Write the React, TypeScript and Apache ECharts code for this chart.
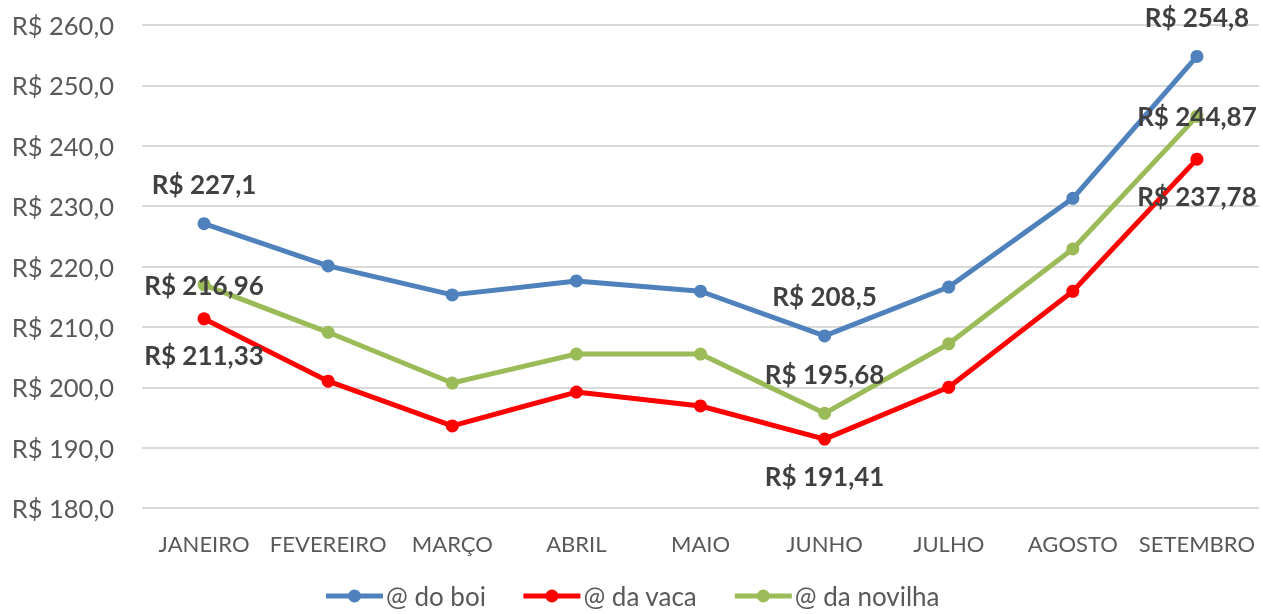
import React, { useEffect, useRef } from "react";
import * as echarts from "echarts";

const categories = ["JANEIRO", "FEVEREIRO", "MARÇO", "ABRIL", "MAIO", "JUNHO", "JULHO", "AGOSTO", "SETEMBRO"];
const boi = [227.1, 220.1, 215.3, 217.6, 215.9, 208.5, 216.6, 231.3, 254.8];
const vaca = [211.33, 201.0, 193.6, 199.2, 196.9, 191.41, 200.0, 215.9, 237.78];
const novilha = [216.96, 209.1, 200.7, 205.5, 205.5, 195.68, 207.2, 222.9, 244.87];
const yTicks = { min: 180, max: 260, interval: 10 };
// indices that carry data labels, with their placement
const boiLabels: Record<number, string> = { 0: "top", 5: "top", 8: "top" };
const vacaLabels: Record<number, string> = { 0: "bottom", 5: "bottom", 8: "bottom" };
const novilhaLabels: Record<number, string> = { 0: "inside", 5: "top", 8: "inside" };

const FONT = "Lato, 'Open Sans', sans-serif";

function fmt(v: number) {
  return "R$ " + String(v).replace(".", ",");
}

function buildData(values: number[], labels: Record<number, string>) {
  return values.map((v, i) => {
    const pos = labels[i];
    if (!pos) return { value: v, label: { show: false } };
    return {
      value: v,
      label: {
        show: true,
        position: pos,
        distance: pos === "bottom" ? 17 : 20,
        formatter: fmt(v),
        fontFamily: FONT,
        fontWeight: "bold",
        fontSize: 26,
        color: "#404040",
      },
    };
  });
}

export default function App() {
  const ref = useRef<HTMLDivElement>(null);
  useEffect(() => {
    if (!ref.current) return;
    const chart = echarts.init(ref.current, undefined, { renderer: "svg" });
    const mk = (name: string, color: string, values: number[], labels: Record<number, string>) => ({
      name,
      type: "line",
      data: buildData(values, labels),
      symbol: "circle",
      symbolSize: 13,
      lineStyle: { color, width: 5 },
      itemStyle: { color },
      z: 2,
    });
    chart.setOption({
      animation: false,
      grid: { left: 142, right: 4, top: 25, bottom: 106, containLabel: false },
      xAxis: {
        type: "category",
        data: categories,
        boundaryGap: true,
        axisLine: { show: false },
        axisTick: { show: false },
        axisLabel: { color: "#595959", fontSize: 22, fontFamily: FONT, margin: 24, interval: 0 },
      },
      yAxis: {
        type: "value",
        min: yTicks.min,
        max: yTicks.max,
        interval: yTicks.interval,
        axisLine: { show: false },
        axisTick: { show: false },
        splitLine: { lineStyle: { color: "#d9d9d9", width: 2 } },
        axisLabel: {
          color: "#595959",
          fontSize: 25.5,
          fontFamily: FONT,
          margin: 28,
          formatter: (v: number) => "R$ " + v.toFixed(1).replace(".", ","),
        },
      },
      legend: {
        top: 578,
        left: "center",
        itemWidth: 57,
        itemHeight: 16,
        itemGap: 35,
        lineStyle: { width: 5 },
        textStyle: { color: "#595959", fontSize: 26, fontFamily: FONT, padding: [0, 0, 0, -2] },
        data: ["@ do boi", "@ da vaca", "@ da novilha"],
      },
      series: [
        mk("@ do boi", "#4F81BD", boi, boiLabels),
        mk("@ da vaca", "#FF0000", vaca, vacaLabels),
        mk("@ da novilha", "#9BBB59", novilha, novilhaLabels),
      ],
    });
    return () => chart.dispose();
  }, []);
  return (
    <div
      ref={ref}
      style={{ position: "fixed", top: 0, left: 0, width: 1263, height: 614, overflow: "hidden" }}
    />
  );
}
